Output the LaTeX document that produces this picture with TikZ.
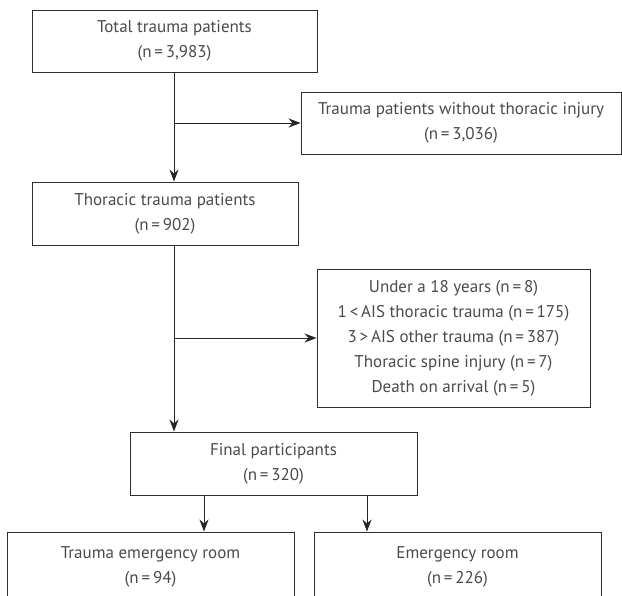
\documentclass[tikz,border=0pt]{standalone}
\usepackage{fontspec}
\setmainfont{PT Sans}
\usetikzlibrary{arrows.meta,positioning,calc}
\definecolor{txt}{HTML}{4A4A4A}
\definecolor{frame}{HTML}{2E2E2E}
\tikzset{
  box/.style={draw=frame, line width=0.9pt, rectangle, inner sep=0pt, align=center,
    text=txt, font=\fontsize{17}{25}\selectfont},
  link/.style={draw=black!85, line width=0.9pt},
  arr/.style={link, -{Stealth[length=12pt,width=9pt]}},
}
\begin{document}
\begin{tikzpicture}[x=1pt,y=-1pt]
\useasboundingbox (0,0) rectangle (622,596);
\node[box, minimum width=285pt, minimum height=62pt] (b1) at (174.5,41) {Total trauma patients\\(n\,=\,3,983)};
\node[box, minimum width=320pt, minimum height=62pt] (b2) at (461,123) {Trauma patients without thoracic injury\\(n\,=\,3,036)};
\node[box, minimum width=266pt, minimum height=63pt] (b3) at (165,213.5) {Thoracic trauma patients\\(n\,=\,902)};
\node[box, minimum width=273pt, minimum height=138pt] (b4) at (453.5,338) {Under a 18 years (n\,=\,8)\\1\,<\,AIS thoracic trauma (n\,=\,175)\\3\,>\,AIS other trauma (n\,=\,387)\\Thoracic spine injury (n\,=\,7)\\Death on arrival (n\,=\,5)};
\node[box, minimum width=287pt, minimum height=63pt] (b5) at (273.5,463.5) {Final participants\\(n\,=\,320)};
\node[box, minimum width=287pt, minimum height=70pt] (b6) at (150.5,567) {Trauma emergency room\\(n\,=\,94)};
\node[box, minimum width=287pt, minimum height=70pt] (b7) at (457.5,567) {Emergency room\\(n\,=\,226)};
% trunk
\coordinate (t1) at (174,72);
\coordinate (j1) at (174,123);
\coordinate (t3) at (174,245);
\coordinate (j2) at (174,338);
\coordinate (f1) at (204,495);
\coordinate (f2) at (367,495);
\draw[arr] (t1) -- (t1 |- b3.north);
\draw[arr] (j1) -- (b2.west);
\draw[arr] (t3) -- (t3 |- b5.north);
\draw[arr] (j2) -- (b4.west);
\draw[arr] (f1) -- (f1 |- b6.north);
\draw[arr] (f2) -- (f2 |- b7.north);
\end{tikzpicture}
\end{document}
